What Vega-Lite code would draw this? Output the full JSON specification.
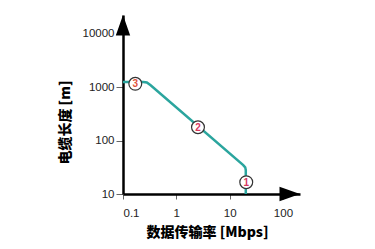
{
  "$schema": "https://vega.github.io/schema/vega-lite/v6.json",
  "autosize": {"type": "none"},
  "padding": {"left": 123, "top": 15, "right": 75, "bottom": 55},
  "width": 177,
  "height": 179,
  "background": "white",
  "config": {
    "view": {"stroke": null},
    "axis": {
      "grid": false,
      "domainColor": "black",
      "domainWidth": 2.5,
      "tickColor": "#666",
      "tickWidth": 1,
      "labelFont": "Liberation Sans",
      "labelFontSize": 11.5,
      "labelColor": "#222",
      "titleFont": "Noto Sans CJK SC",
      "titleFontWeight": 900,
      "titleFontSize": 14,
      "titleColor": "black"
    }
  },
  "datasets": {
    "curve": [
      {"rate": 0.1, "len": 1240},
      {"rate": 0.24, "len": 1240},
      {"rate": 0.28, "len": 1215},
      {"rate": 0.33, "len": 1075},
      {"rate": 18, "len": 34.7},
      {"rate": 19.6, "len": 31.5},
      {"rate": 20.1, "len": 28},
      {"rate": 20.1, "len": 10}
    ],
    "markers": [
      {"rate": 0.17, "len": 1150, "id": "3"},
      {"rate": 2.55, "len": 177, "id": "2"},
      {"rate": 20.5, "len": 16.6, "id": "1"}
    ],
    "yArrow": [{"rate": 0.1, "len": 22200}],
    "xArrow": [{"rate": 209, "len": 10}]
  },
  "encoding": {
    "x": {
      "field": "rate",
      "type": "quantitative",
      "scale": {"type": "log", "domain": [0.1, 209], "nice": false},
      "axis": {
        "values": [0.1, 1, 10, 100],
        "format": "~g",
        "tickSize": 5,
        "labelPadding": 8,
        "title": "数据传输率 [Mbps]",
        "titleX": 84,
        "titleY": 38,
        "titleAlign": "center",
        "titleBaseline": "middle"
      }
    },
    "y": {
      "field": "len",
      "type": "quantitative",
      "scale": {"type": "log", "domain": [10, 22200], "nice": false},
      "axis": {
        "values": [10, 100, 1000, 10000],
        "format": "d",
        "tickSize": 7,
        "labelPadding": 2,
        "title": "电缆长度 [m]",
        "titleX": -58,
        "titleY": 107,
        "titleAlign": "center",
        "titleBaseline": "middle"
      }
    }
  },
  "layer": [
    {
      "data": {"name": "curve"},
      "mark": {"type": "line", "color": "#2ba59e", "strokeWidth": 2.5, "clip": false}
    },
    {
      "data": {"name": "markers"},
      "mark": {"type": "point", "filled": true, "fill": "white", "stroke": "#333", "strokeWidth": 1.2, "size": 165, "opacity": 1}
    },
    {
      "data": {"name": "markers"},
      "mark": {"type": "text", "font": "Liberation Sans", "fontSize": 10, "fontWeight": "bold", "baseline": "middle", "align": "center", "dy": 0.5},
      "encoding": {
        "text": {"field": "id"},
        "color": {
          "field": "id",
          "type": "nominal",
          "scale": {"domain": ["1", "2", "3"], "range": ["#d8375f", "#d8375f", "#e0533c"]},
          "legend": null
        }
      }
    },
    {
      "data": {"name": "yArrow"},
      "mark": {"type": "point", "shape": "M0,0L0.7,2L-0.7,2Z", "filled": true, "color": "black", "size": 420, "opacity": 1, "clip": false}
    },
    {
      "data": {"name": "xArrow"},
      "mark": {"type": "point", "shape": "M0,0L-2,-0.7L-2,0.7Z", "filled": true, "color": "black", "size": 420, "opacity": 1, "clip": false}
    }
  ]
}
